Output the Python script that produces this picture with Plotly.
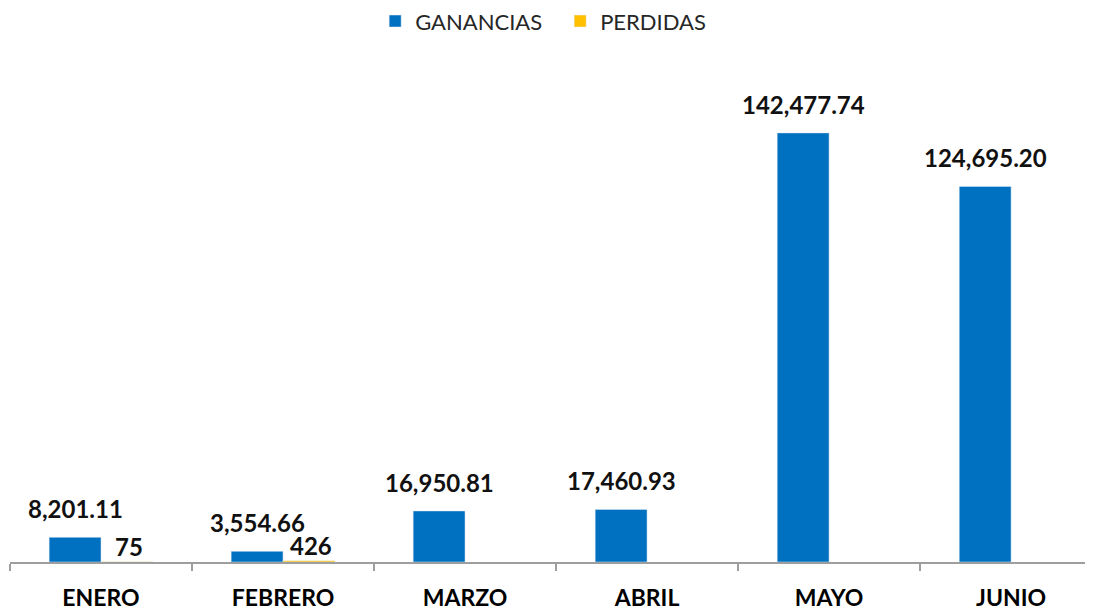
import plotly.graph_objects as go

months = ["ENERO", "FEBRERO", "MARZO", "ABRIL", "MAYO", "JUNIO"]
ganancias = [8201.11, 3554.66, 16950.81, 17460.93, 142477.74, 124695.20]
perdidas = [75, 426, None, None, None, None]

gan_text = [f"{v:,.2f}" for v in ganancias]
per_text = [f"{v:,.0f}" if v is not None else "" for v in perdidas]

FONT = "Lato"
LABEL_FONT = dict(family=FONT, size=24, color="#111111", weight="bold")

fig = go.Figure()
fig.add_trace(go.Bar(name="GANANCIAS", x=months, y=ganancias, marker_color="#0070C0"))
fig.add_trace(go.Bar(name="PERDIDAS", x=months, y=perdidas, marker_color="#FFC000"))

# data labels (positioned from data values via the axes)
for m, v, t in zip(months, ganancias, gan_text):
    fig.add_annotation(x=m, y=v, text=t, showarrow=False, xanchor="center",
                       yanchor="bottom", xshift=-26, yshift=13, font=LABEL_FONT,
                       borderpad=0)
for m, v, t in zip(months, perdidas, per_text):
    if v is None:
        continue
    fig.add_annotation(x=m, y=v, text=t, showarrow=False, xanchor="center",
                       yanchor="bottom", xshift=28, yshift=0, font=LABEL_FONT,
                       borderpad=0)

fig.update_layout(
    width=1085, height=602,
    margin=dict(l=2, r=0, t=42, b=48),
    paper_bgcolor="white", plot_bgcolor="white",
    barmode="group", bargap=0.43, bargroupgap=0,
    legend=dict(orientation="h", x=0.508, xanchor="center", y=0.978, yanchor="middle",
                yref="container", font=dict(family=FONT, size=22, color="#262626"),
                itemwidth=30, entrywidth=140),
    showlegend=True,
)
fig.update_xaxes(
    range=[-0.5, 5.45], showline=True, linecolor="#9E9E9E", linewidth=2,
    ticks="outside", tickson="boundaries", ticklen=7, tickcolor="#9E9E9E", tickwidth=2,
    tickfont=dict(family=FONT, size=23, color="#000000", weight="bold"),
    ticklabelstandoff=14, showgrid=False, zeroline=False,
)
fig.update_yaxes(range=[0, 170000], visible=False, showgrid=False, zeroline=False)

fig.write_html("out.html")
